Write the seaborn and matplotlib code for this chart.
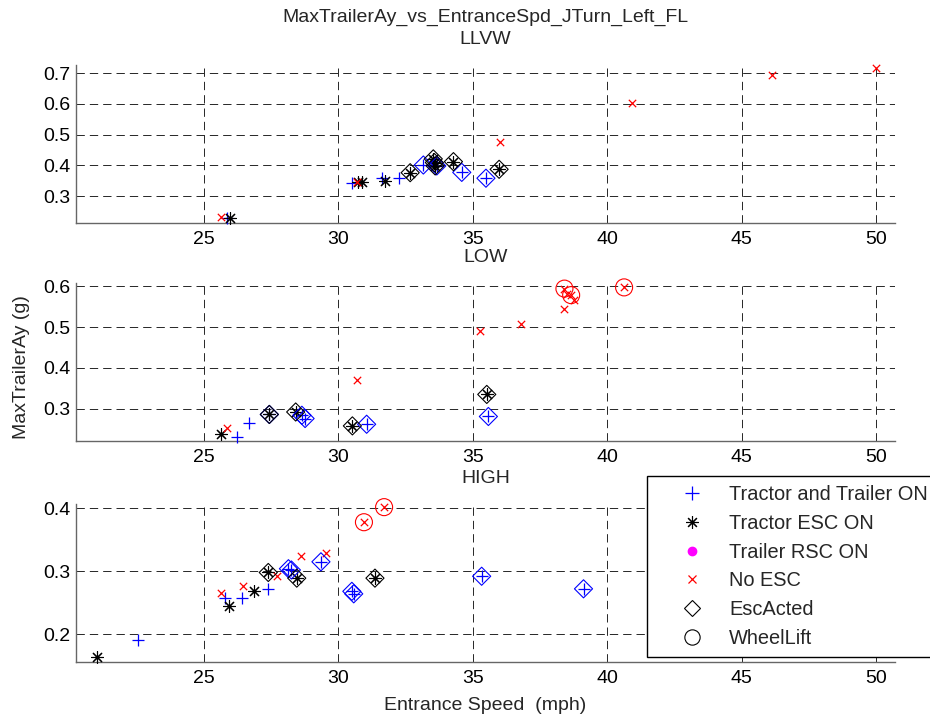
import matplotlib
matplotlib.use("Agg")
import matplotlib.pyplot as plt
from matplotlib.lines import Line2D
import seaborn as sns

# ---------------- data ----------------
title_main = "MaxTrailerAy_vs_EntranceSpd_JTurn_Left_FL"
panel_names = ["LLVW", "LOW", "HIGH"]
x_label = "Entrance Speed  (mph)"
y_label = "MaxTrailerAy (g)"
legend_labels = ["Tractor and Trailer ON", "Tractor ESC ON", "Trailer RSC ON",
                 "No ESC", "EscActed", "WheelLift"]
x_ticks = [25, 30, 35, 40, 45, 50]

# LLVW
llvw_tt_x = [25.87, 30.50, 31.61, 32.27, 33.16, 33.66, 34.59, 35.49]
llvw_tt_y = [0.228, 0.342, 0.358, 0.360, 0.401, 0.398, 0.377, 0.358]
llvw_tt_esc = [0, 0, 0, 0, 1, 1, 1, 1]
llvw_te_x = [25.97, 30.72, 30.87, 31.74, 32.67, 33.53, 33.57, 33.60, 34.28, 35.98]
llvw_te_y = [0.228, 0.345, 0.345, 0.350, 0.376, 0.421, 0.409, 0.398, 0.412, 0.387]
llvw_te_esc = [0, 0, 0, 0, 1, 1, 1, 1, 1, 1]
llvw_ne_x = [25.62, 30.68, 36.02, 40.92, 46.15, 50.00]
llvw_ne_y = [0.233, 0.345, 0.475, 0.602, 0.694, 0.716]
llvw_ne_lift = [0, 0, 0, 0, 0, 0]

# LOW
low_tt_x = [26.22, 26.69, 27.43, 28.64, 28.76, 31.05, 35.58]
low_tt_y = [0.231, 0.265, 0.286, 0.284, 0.276, 0.262, 0.281]
low_tt_esc = [0, 0, 1, 1, 1, 1, 1]
low_te_x = [25.62, 27.43, 28.41, 30.52, 35.52]
low_te_y = [0.239, 0.286, 0.292, 0.258, 0.335]
low_te_esc = [0, 1, 1, 1, 1]
low_ne_x = [25.87, 30.71, 35.27, 36.80, 38.41, 38.41, 38.52, 38.66, 38.76, 40.63]
low_ne_y = [0.254, 0.371, 0.490, 0.507, 0.544, 0.594, 0.582, 0.578, 0.567, 0.597]
low_ne_lift = [0, 0, 0, 0, 0, 1, 0, 1, 0, 1]

# HIGH
high_tt_x = [22.55, 25.78, 26.40, 27.39, 28.14, 28.25, 29.35, 30.50, 30.57, 35.33, 39.12]
high_tt_y = [0.191, 0.258, 0.257, 0.271, 0.304, 0.302, 0.315, 0.268, 0.264, 0.292, 0.272]
high_tt_esc = [0, 0, 0, 0, 1, 1, 1, 1, 1, 1, 1]
high_te_x = [21.01, 25.94, 26.86, 27.39, 28.45, 31.36]
high_te_y = [0.163, 0.244, 0.269, 0.298, 0.289, 0.289]
high_te_esc = [0, 0, 0, 1, 1, 1]
high_ne_x = [25.63, 26.46, 27.73, 28.60, 29.53, 30.95, 31.70]
high_ne_y = [0.265, 0.276, 0.292, 0.325, 0.329, 0.378, 0.402]
high_ne_lift = [0, 0, 0, 0, 0, 1, 1]

panels = [
    (llvw_tt_x, llvw_tt_y, llvw_tt_esc, llvw_te_x, llvw_te_y, llvw_te_esc,
     llvw_ne_x, llvw_ne_y, llvw_ne_lift, [0.3, 0.4, 0.5, 0.6, 0.7], (0.213, 0.727)),
    (low_tt_x, low_tt_y, low_tt_esc, low_te_x, low_te_y, low_te_esc,
     low_ne_x, low_ne_y, low_ne_lift, [0.3, 0.4, 0.5, 0.6], (0.221, 0.607)),
    (high_tt_x, high_tt_y, high_tt_esc, high_te_x, high_te_y, high_te_esc,
     high_ne_x, high_ne_y, high_ne_lift, [0.2, 0.3, 0.4], (0.156, 0.407)),
]

# ---------------- style ----------------
sns.set_theme(style="white")
plt.rcParams["font.family"] = ["Liberation Sans", "DejaVu Sans"]
plt.rcParams["lines.scale_dashes"] = False
narrow = ["Liberation Sans Narrow", "Liberation Sans", "DejaVu Sans"]

BLUE = (0, 0, 1)
BLACK = (0, 0, 0)
RED = (1, 0, 0)
ASTER = (8, 2, 0)

W, H = 930, 721
fig = plt.figure(figsize=(W / 100, H / 100), dpi=100)
left, right = 76, 895
tops = [65, 283.3, 504]
ax_h = 157.7

axes = []
for i, (ttx, tty, ttesc, tex, tey, teesc, nex, ney, nelift, yt, ylim) in enumerate(panels):
    top = tops[i]
    ax = fig.add_axes([left / W, 1 - (top + ax_h) / H, (right - left) / W, ax_h / H])
    axes.append(ax)

    # base markers
    sns.scatterplot(x=ttx, y=tty, ax=ax, marker="+", color=BLUE, s=75,
                    linewidth=0.9, legend=False, zorder=3, clip_on=False)
    sns.scatterplot(x=tex, y=tey, ax=ax, marker=ASTER, color=BLACK, s=75,
                    linewidth=0.8, legend=False, zorder=3, clip_on=False)
    sns.scatterplot(x=nex, y=ney, ax=ax, marker="x", color=RED, s=28,
                    linewidth=0.9, legend=False, zorder=3, clip_on=False)
    # EscActed diamonds
    dx = [x for x, f in zip(ttx, ttesc) if f]
    dy = [y for y, f in zip(tty, ttesc) if f]
    if dx:
        sns.scatterplot(x=dx, y=dy, ax=ax, marker="D", color=BLUE, facecolor="none",
                        edgecolor=BLUE, s=85, linewidth=0.8, legend=False, zorder=4,
                        clip_on=False)
    dx = [x for x, f in zip(tex, teesc) if f]
    dy = [y for y, f in zip(tey, teesc) if f]
    if dx:
        sns.scatterplot(x=dx, y=dy, ax=ax, marker="D", color=BLACK, facecolor="none",
                        edgecolor=BLACK, s=85, linewidth=0.8, legend=False, zorder=4,
                        clip_on=False)
    # WheelLift circles
    cx = [x for x, f in zip(nex, nelift) if f]
    cy = [y for y, f in zip(ney, nelift) if f]
    if cx:
        sns.scatterplot(x=cx, y=cy, ax=ax, marker="o", color=RED, facecolor="none",
                        edgecolor=RED, s=150, linewidth=0.8, legend=False, zorder=4,
                        clip_on=False)

    ax.set_xlim(20.236, 50.71)
    ax.set_ylim(*ylim)
    ax.set_xticks(x_ticks)
    ax.set_yticks(yt)
    ax.set_xticklabels([str(t) for t in x_ticks])
    ax.set_yticklabels([f"{t:.1f}" for t in yt])
    ax.grid(True, color="0.15", linestyle=(0, (6, 3.6)), linewidth=0.7)
    ax.set_axisbelow(True)
    for s in ["top", "right"]:
        ax.spines[s].set_visible(False)
    for s in ["left", "bottom"]:
        ax.spines[s].set_color("0.4")
        ax.spines[s].set_linewidth(1.0)
    ax.tick_params(direction="in", length=4, width=0.8, color="0.3",
                   labelsize=14, labelcolor="black")
    ax.tick_params(axis="x", pad=6)
    ax.tick_params(axis="y", pad=4)
    ax.set_xlabel("")
    ax.set_ylabel("")
    ax.text(0.5, 1 + 26 / ax_h, panel_names[i], transform=ax.transAxes,
            ha="center", va="center", fontsize=14, family=narrow)

axes[0].text(0.5, 1 + 48 / ax_h, title_main, transform=axes[0].transAxes,
             ha="center", va="center", fontsize=14, family=narrow)
axes[2].set_xlabel(x_label, fontsize=14, family=narrow, labelpad=7)
axes[1].set_ylabel(y_label, fontsize=14, family=narrow)
axes[1].yaxis.set_label_coords(-0.056, 0.47)

handles = [
    Line2D([], [], linestyle="none", marker="+", color=BLUE, markersize=10, markeredgewidth=0.9),
    Line2D([], [], linestyle="none", marker=ASTER, color=BLACK, markersize=9, markeredgewidth=0.8),
    Line2D([], [], linestyle="none", marker="o", color=(1, 0, 1), markersize=6),
    Line2D([], [], linestyle="none", marker="x", color=RED, markersize=5.5, markeredgewidth=0.9),
    Line2D([], [], linestyle="none", marker="D", markerfacecolor="none", markeredgecolor=BLACK,
           markersize=8, markeredgewidth=0.8),
    Line2D([], [], linestyle="none", marker="o", markerfacecolor="none", markeredgecolor=BLACK,
           markersize=11, markeredgewidth=0.8),
]
leg = fig.legend(handles, legend_labels, loc="upper left",
                 bbox_to_anchor=(647 / W, 1 - 476 / H), borderaxespad=0,
                 frameon=True, fancybox=False, framealpha=1, edgecolor="black",
                 fontsize=14.4, labelspacing=0.49, handlelength=3.57,
                 handletextpad=0.1, borderpad=0.45)
leg.get_frame().set_linewidth(1.0)

fig.savefig("out.png", dpi=100)
